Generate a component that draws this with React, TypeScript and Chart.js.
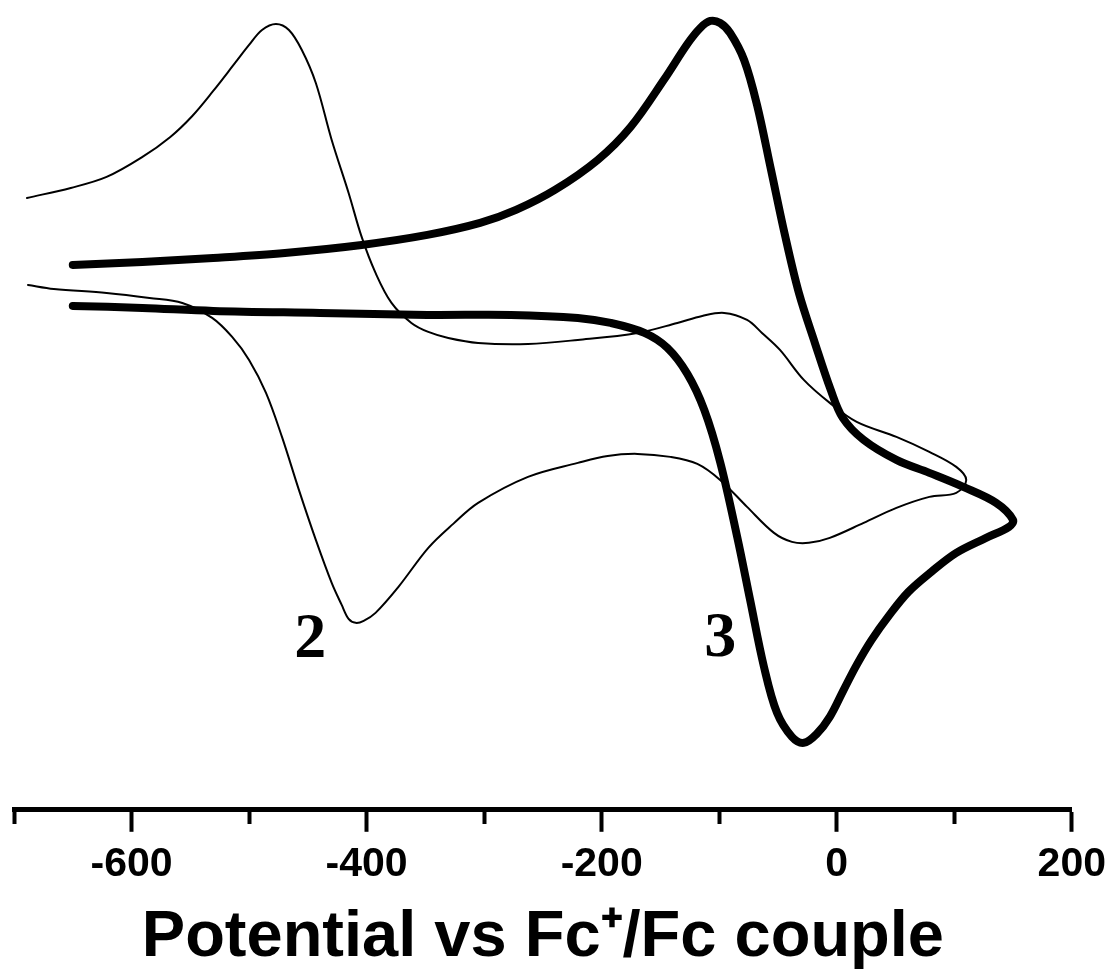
import React, { useEffect, useRef } from "react";
import { Chart, registerables } from "chart.js";

Chart.register(...registerables);

// Compound 2 (thin trace): potential (mV vs Fc+/Fc) and current (arb. units), in scan order
const thinPotential = [
  -689.0, -651.7, -621.2, -590.7, -567.0, -548.3, -530.5, -511.9, -500.0, -489.0, -477.1, -466.1,
  -455.1, -443.2, -429.7, -415.3, -404.2, -392.4, -378.8, -361.9, -347.5, -330.5, -305.1, -262.7,
  -220.3, -169.5, -135.6, -114.4, -95.8, -76.3, -63.6, -48.3, -28.0, -5.9, 17.0, 50.8, 78.8, 101.7,
  110.2, 101.7, 78.8, 50.8, 22.9, -5.9, -23.7, -38.1, -53.4, -76.3, -99.2, -118.6, -141.5, -169.5,
  -194.9, -220.3, -262.7, -305.1, -326.3, -347.5, -372.9, -392.4, -402.5, -409.3, -415.3, -421.2,
  -429.7, -443.2, -457.6, -472.0, -485.6, -500.0, -514.4, -531.4, -556.8, -584.7, -621.2, -666.1,
  -688.1,
];
const thinCurrent = [
  61.2, 62.2, 63.3, 65.3, 67.3, 69.4, 71.9, 74.7, 76.5, 78.0, 78.6, 78.0,
  76.0, 72.7, 67.0, 61.7, 57.3, 53.7, 50.7, 48.7, 47.8, 47.2, 46.7, 46.6,
  47.0, 47.7, 48.7, 49.4, 49.7, 49.0, 47.7, 46.0, 43.0, 40.7, 38.8, 37.3, 35.8, 34.3,
  33.0, 31.7, 31.3, 30.2, 28.7, 27.2, 26.7, 26.8, 27.7, 30.3, 33.0, 34.6, 35.3, 35.6,
  35.4, 34.7, 33.3, 30.7, 28.6, 26.2, 22.3, 19.7, 18.9, 18.7, 19.1, 20.5,
  22.7, 27.0, 32.0, 37.3, 41.7, 45.0, 47.3, 49.2, 50.7, 51.2, 51.7, 52.1,
  52.5,
];

// Compound 3 (thick trace)
const thickPotential = [
  -650.0, -590.7, -530.5, -469.5, -404.2, -348.3, -303.4, -272.9, -239.8, -203.4, -175.4, -146.6,
  -127.1, -116.1, -107.6, -99.2, -90.7, -78.8, -67.8, -55.9, -44.1, -32.2, -18.6, -5.1, 5.1,
  22.9, 50.8, 78.8, 107.6, 135.6, 150.0, 146.6, 127.1, 101.7, 80.5, 61.0, 44.9, 29.7, 17.0, 5.9,
  -5.9, -17.0, -28.0, -38.1, -50.8, -61.9, -73.7, -84.7, -99.2, -112.7, -127.1, -144.1, -163.6,
  -192.4, -220.3, -277.1, -348.3, -439.8, -530.5, -590.7, -650.0,
];
const thickCurrent = [
  54.5, 54.8, 55.2, 55.7, 56.5, 57.5, 58.7, 60.0, 62.0, 65.0, 68.3, 73.1,
  76.6, 78.2, 78.9, 78.7, 77.7, 75.0, 70.5, 64.0, 57.5, 51.7, 46.7, 42.0, 39.2,
  37.0, 35.0, 33.7, 32.3, 30.7, 29.0, 28.3, 27.2, 25.7, 23.8, 21.8, 19.5, 17.0, 14.5, 12.0,
  9.3, 7.6, 6.7, 7.3, 9.7, 14.3, 21.0, 27.3, 34.8, 40.0, 43.6, 46.2, 47.7,
  48.7, 49.2, 49.5, 49.5, 49.7, 49.9, 50.2, 50.4,
];

// Curve labels
const curveLabels = ["2", "3"];
const labelPotential = [-448, -99];
const labelCurrent = [16.9, 17.0];

// Axis
const xMin = -700;
const xMax = 200;
const xStep = 100;
const xLabelStep = 200;
const xTitle = "Potential vs Fc\u207A/Fc couple";

const toPoints = (xs: number[], ys: number[]) => xs.map((x, i) => ({ x, y: ys[i] }));

const SANS = '"Liberation Sans", Arial, Helvetica, sans-serif';
const SERIF = '"Liberation Serif", "Times New Roman", serif';

const labelPlugin = {
  id: "curveLabels",
  afterDatasetsDraw(chart: any) {
    const { ctx, scales } = chart;
    ctx.save();
    ctx.fillStyle = "#000";
    ctx.font = `bold 64px ${SERIF}`;
    ctx.textAlign = "center";
    ctx.textBaseline = "middle";
    curveLabels.forEach((t, i) => {
      ctx.fillText(t, scales.x.getPixelForValue(labelPotential[i]), scales.y.getPixelForValue(labelCurrent[i]));
    });
    ctx.restore();
  },
};

export default function App() {
  const ref = useRef<HTMLCanvasElement | null>(null);

  useEffect(() => {
    document.body.style.margin = "0";
    const canvas = ref.current;
    if (!canvas) return;
    const chart = new Chart(canvas, {
      type: "scatter",
      data: {
        datasets: [
          {
            label: "2",
            data: toPoints(thinPotential, thinCurrent),
            showLine: true,
            borderColor: "#000",
            borderWidth: 2,
            pointRadius: 0,
            tension: 0.35,
            borderCapStyle: "round",
            borderJoinStyle: "round",
          },
          {
            label: "3",
            data: toPoints(thickPotential, thickCurrent),
            showLine: true,
            borderColor: "#000",
            borderWidth: 8,
            pointRadius: 0,
            tension: 0.35,
            borderCapStyle: "round",
            borderJoinStyle: "round",
          },
        ],
      },
      options: {
        animation: false,
        responsive: false,
        devicePixelRatio: 1,
        layout: { padding: { left: 14, right: 38, top: 0, bottom: 0 } },
        plugins: { legend: { display: false }, tooltip: { enabled: false } },
        scales: {
          x: {
            type: "linear",
            min: xMin,
            max: xMax,
            border: { display: true, color: "#000", width: 5 },
            grid: {
              drawOnChartArea: false,
              drawTicks: true,
              tickLength: 22,
              tickWidth: 4,
              tickColor: "#000",
              tickBorderDash: (c: any) =>
                c.tick && c.tick.value % xLabelStep !== 0 ? [12, 200] : [],
            },
            ticks: {
              stepSize: xStep,
              autoSkip: false,
              maxRotation: 0,
              padding: 8,
              color: "#000",
              font: { family: SANS, size: 41, weight: "bold" },
              callback: (v: any) => (Number(v) % xLabelStep === 0 ? String(v) : ""),
            },
            title: {
              display: true,
              text: xTitle,
              color: "#000",
              font: { family: SANS, size: 65, weight: "bold", lineHeight: 1 },
              padding: { top: 9, bottom: 2 },
            },
          },
          y: { type: "linear", display: false, min: 0, max: 81 },
        },
      },
      plugins: [labelPlugin],
    } as any);
    return () => chart.destroy();
  }, []);

  return (
    <div style={{ width: 1114, height: 973, background: "#fff" }}>
      <canvas ref={ref} width={1114} height={973} style={{ display: "block" }} />
    </div>
  );
}
